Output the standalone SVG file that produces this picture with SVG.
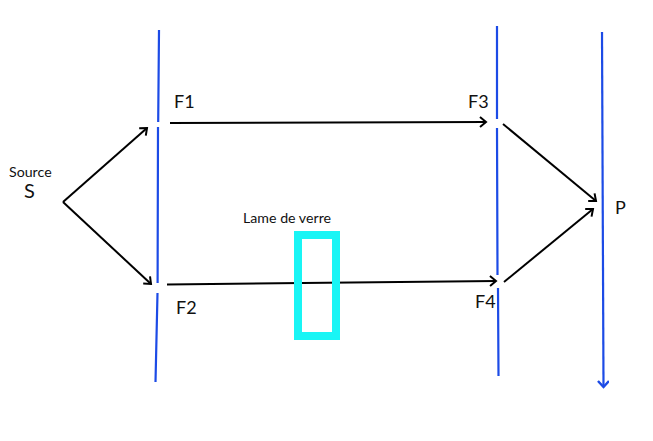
<svg xmlns="http://www.w3.org/2000/svg" width="653" height="441" viewBox="0 0 653 441">
<style>
text{font-family:"Lato","Open Sans",sans-serif;fill:#111}
.b{font-size:18px}
.s{font-size:14.200px}
.blue{stroke:#1c4be6;stroke-width:2.200;fill:none}
.ray{stroke:#000;stroke-width:2;fill:none;marker-end:url(#a)}
</style>
<defs>
<marker id="a" markerUnits="userSpaceOnUse" markerWidth="14" markerHeight="14" refX="10" refY="6" orient="auto"><path d="M4 1L10 6L4 11" fill="none" stroke="#000" stroke-width="2"/></marker>
<marker id="b" markerUnits="userSpaceOnUse" markerWidth="14" markerHeight="14" refX="10" refY="6" orient="auto"><path d="M4 0.500L10 6L4 11.500" fill="none" stroke="#1c4be6" stroke-width="2.500"/></marker>
</defs>
<rect width="653" height="441" fill="#fff"/>
<g id="connectors">
<path class="ray" d="M63 202L147 128"/>
<path class="ray" d="M63 202L151 284"/>
<path class="ray" d="M170 123L486 122"/>
<path class="ray" d="M167 284.500L496 281"/>
<path class="ray" d="M503 124L596 201"/>
<path class="ray" d="M504 282L593 209"/>
</g>
<g id="ecran-1"><path class="blue" d="M159 30L158.200 122M158 127L157.600 283M157.500 293L155.500 382"/></g>
<g id="ecran-2"><path class="blue" d="M497 26L497 119M497 128L497.500 275M498 288L498.500 376"/></g>
<g id="ecran-3"><path class="blue" d="M602 32L603.500 387" style="marker-end:url(#b)"/></g>
<g id="lame"><rect x="298" y="235" width="38" height="101" fill="none" stroke="#19f5f5" stroke-width="8"/><text class="s" x="243" y="223">Lame de verre</text></g>
<g id="source"><text class="s" x="9" y="177">Source</text><text x="24" y="198" style="font-size:20px">S</text></g>
<g id="F1"><text class="b" x="174" y="108">F1</text></g>
<g id="F2"><text class="b" x="176" y="314">F2</text></g>
<g id="F3"><text class="b" x="468" y="108">F3</text></g>
<g id="F4"><text class="b" x="475" y="308">F4</text></g>
<g id="P"><text class="b" x="615" y="214">P</text></g>
</svg>
